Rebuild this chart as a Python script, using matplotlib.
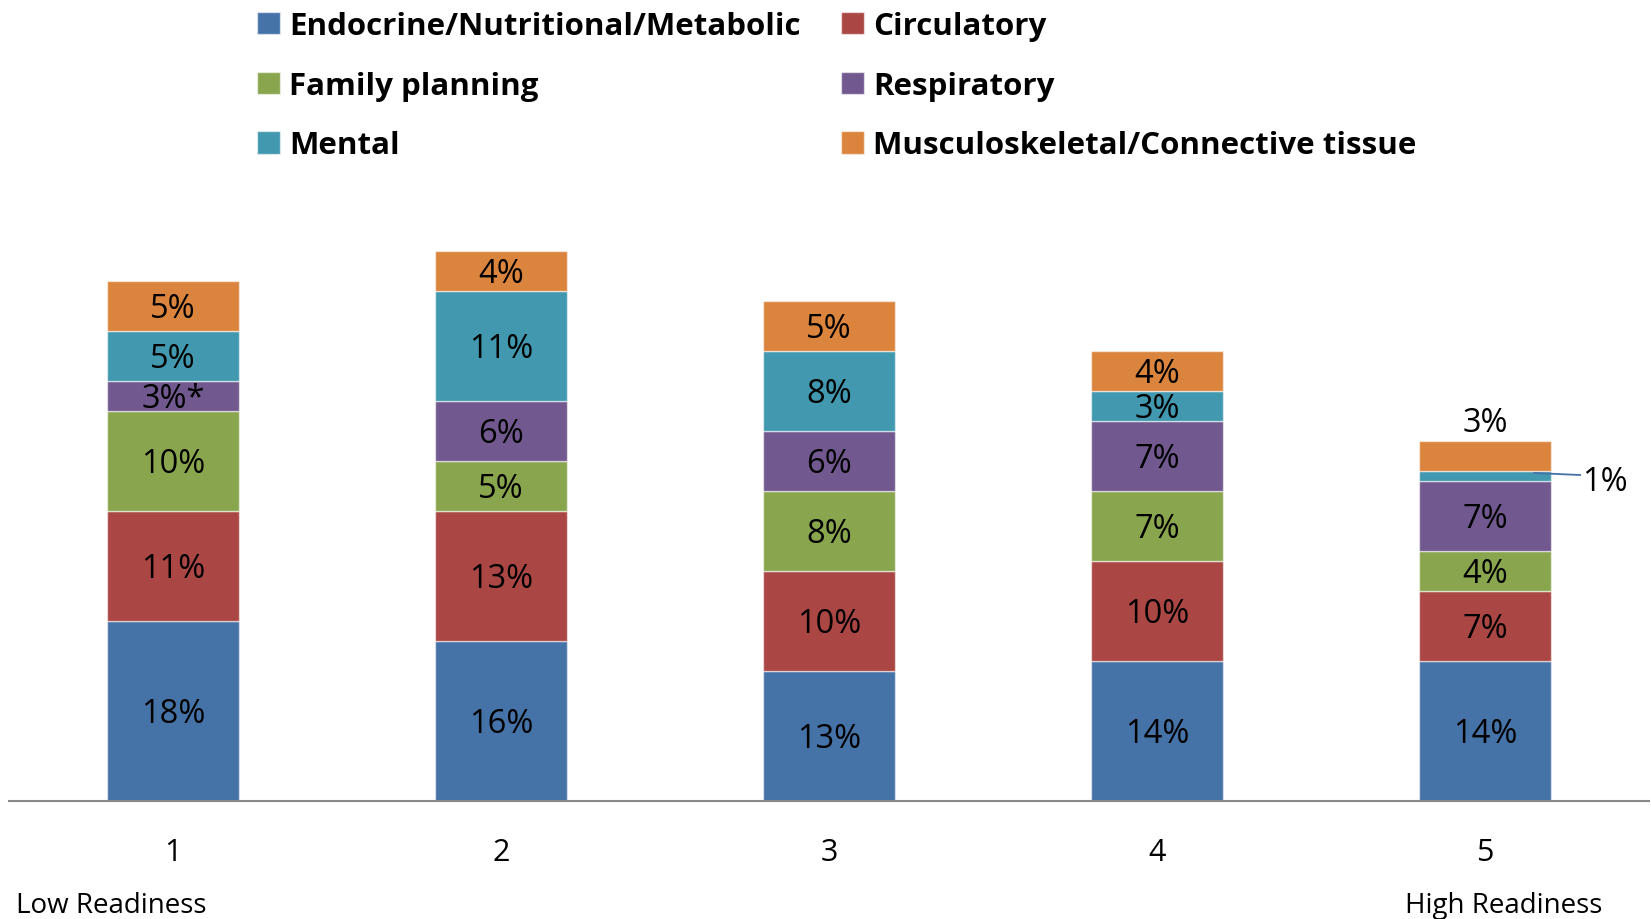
import matplotlib
matplotlib.use("Agg")
import matplotlib.pyplot as plt
import numpy as np

plt.rcParams['font.family'] = ['Open Sans', 'DejaVu Sans']

categories = ["1", "2", "3", "4", "5"]
series_names = ["Endocrine/Nutritional/Metabolic", "Circulatory", "Family planning",
                "Respiratory", "Mental", "Musculoskeletal/Connective tissue"]
endocrine = [18, 16, 13, 14, 14]
circulatory = [11, 13, 10, 10, 7]
family_planning = [10, 5, 8, 7, 4]
respiratory = [3, 6, 6, 7, 7]
mental = [5, 11, 8, 3, 1]
musculoskeletal = [5, 4, 5, 4, 3]
bar_labels = [
    ["18%", "16%", "13%", "14%", "14%"],
    ["11%", "13%", "10%", "10%", "7%"],
    ["10%", "5%", "8%", "7%", "4%"],
    ["3%*", "6%", "6%", "7%", "7%"],
    ["5%", "11%", "8%", "3%", "1%"],
    ["5%", "4%", "5%", "4%", "3%"],
]
colors = ["#4572A7", "#AA4643", "#89A54E", "#71588F", "#4198AF", "#DB843D"]

series = [endocrine, circulatory, family_planning, respiratory, mental, musculoskeletal]

fig = plt.figure(figsize=(16.51, 9.2), dpi=100)
ax = fig.add_axes([9 / 1651, 118 / 920, 1640 / 1651, 600 / 920])

LBL = 23.5
x = np.arange(len(categories))
bottom = np.zeros(len(categories))
handles = []
for i, (vals, col) in enumerate(zip(series, colors)):
    vals = np.array(vals, dtype=float)
    b = ax.bar(x, vals, width=0.4, bottom=bottom, color=col,
               edgecolor=(1, 1, 1, 0.55), linewidth=1.0, label=series_names[i])
    handles.append(b)
    for j in range(len(categories)):
        lab = bar_labels[i][j]
        if i == 4 and j == 4:
            ymid = bottom[j] + vals[j] * 0.8
            ax.plot([x[j] + 0.15, x[j] + 0.29], [ymid, ymid - 0.2], color="#4572A7", lw=1.3)
            ax.text(x[j] + 0.295, bottom[j] + vals[j] / 2 - 0.6, lab, ha="left", va="center",
                    fontsize=LBL, color="black")
        elif i == 5 and j == 4:
            ax.text(x[j], bottom[j] + vals[j] + 1.8, lab, ha="center", va="center",
                    fontsize=LBL, color="black")
        else:
            ax.text(x[j], bottom[j] + vals[j] / 2 - 0.3, lab, ha="center", va="center",
                    fontsize=LBL, color="black")
    bottom += vals

ax.set_xlim(-0.5, 4.5)
ax.set_ylim(0, 60)
ax.set_yticks([])
for s in ["top", "right", "left"]:
    ax.spines[s].set_visible(False)
ax.spines["bottom"].set_color("#898989")
ax.spines["bottom"].set_linewidth(1.5)
ax.set_xticks(x)
ax.set_xticklabels(categories, fontsize=22)
ax.tick_params(axis="x", length=0, pad=26)

fig.text(16 / 1651, 1 - 906 / 920, "Low Readiness", fontsize=20, ha="left", va="center")
fig.text(1602 / 1651, 1 - 906 / 920, "High Readiness", fontsize=20, ha="right", va="center")

order = [0, 2, 4, 1, 3, 5]
leg = fig.legend([handles[k] for k in order], [series_names[k] for k in order],
                 ncol=2, loc="upper left", bbox_to_anchor=(257 / 1651, 1 - 12 / 920),
                 frameon=False, prop={"weight": "bold", "size": 22.5},
                 handlelength=0.72, handleheight=0.72, handletextpad=0.3,
                 columnspacing=1.3, labelspacing=0.95, borderpad=0, borderaxespad=0)

fig.savefig("out.png", dpi=100)
